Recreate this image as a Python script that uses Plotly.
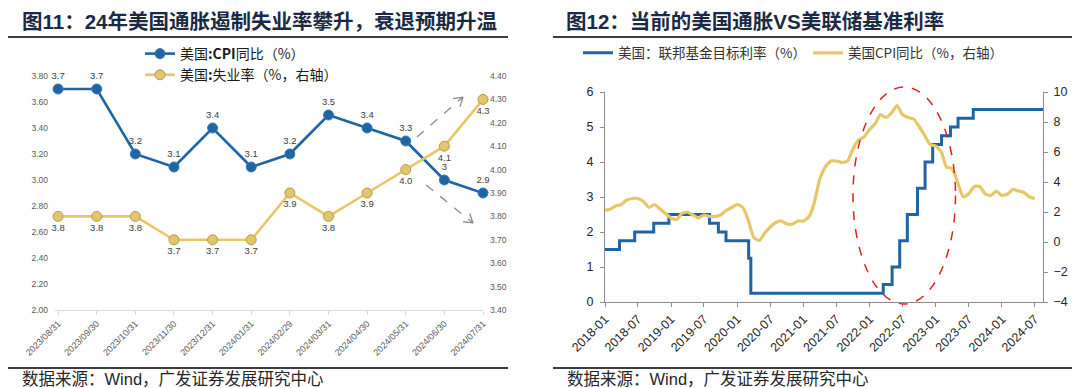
import math
import plotly.graph_objects as go
import pandas as pd

# ---------------- Left chart data (图11) ----------------
months_l = ["2023/08/31", "2023/09/30", "2023/10/31", "2023/11/30", "2023/12/31", "2024/01/31",
            "2024/02/29", "2024/03/31", "2024/04/30", "2024/05/31", "2024/06/30", "2024/07/31"]
cpi_l = [3.7, 3.7, 3.2, 3.1, 3.4, 3.1, 3.2, 3.5, 3.4, 3.3, 3.0, 2.9]
unemp_l = [3.8, 3.8, 3.8, 3.7, 3.7, 3.7, 3.9, 3.8, 3.9, 4.0, 4.1, 4.3]

# ---------------- Right chart data (图12) ----------------
cpi_start = "2018-01-01"
cpi_r = [2.1, 2.2, 2.4, 2.5, 2.8, 2.9, 2.9, 2.7, 2.3, 2.5, 2.2, 1.9,
         1.6, 1.5, 1.9, 2.0, 1.8, 1.6, 1.8, 1.7, 1.7, 1.8, 2.1, 2.3,
         2.5, 2.3, 1.5, 0.3, 0.1, 0.6, 1.0, 1.3, 1.4, 1.2, 1.2, 1.4,
         1.4, 1.7, 2.6, 4.2, 5.0, 5.4, 5.4, 5.3, 5.4, 6.2, 6.8, 7.0,
         7.5, 7.9, 8.5, 8.3, 8.6, 9.1, 8.5, 8.3, 8.2, 7.7, 7.1, 6.5,
         6.4, 6.0, 5.0, 4.9, 4.0, 3.0, 3.2, 3.7, 3.7, 3.2, 3.1, 3.4,
         3.1, 3.2, 3.5, 3.4, 3.3, 3.0, 2.9]
ff_dates = ["2018-01-01", "2018-03-22", "2018-06-14", "2018-09-27", "2018-12-20",
            "2019-08-01", "2019-09-19", "2019-10-31", "2020-03-04", "2020-03-16",
            "2022-03-17", "2022-05-05", "2022-06-16", "2022-07-28", "2022-09-22",
            "2022-11-03", "2022-12-15", "2023-02-02", "2023-03-23", "2023-05-04",
            "2023-07-27", "2024-08-15"]
ff_rates = [1.50, 1.75, 2.00, 2.25, 2.50,
            2.25, 2.00, 1.75, 1.25, 0.25,
            0.50, 1.00, 1.75, 2.50, 3.25,
            4.00, 4.50, 4.75, 5.00, 5.25,
            5.50, 5.50]

cpi_dates = pd.date_range(cpi_start, periods=len(cpi_r), freq="MS")

W, H = 1080, 388
def fx(p):
    return p / W
def fy(p):
    return 1 - p / H

BLUE = "#1f64a3"
GOLD = "#e6c768"
FONT = "Liberation Sans, Noto Sans CJK SC, sans-serif"
CJK = "Noto Sans CJK SC, Liberation Sans, sans-serif"

fig = go.Figure()

# Left chart traces
fig.add_trace(go.Scatter(
    x=months_l, y=cpi_l, name="美国<b>:CPI</b>同比（%）",
    mode="lines+markers+text", text=[f"{v:g}" for v in cpi_l], textposition="top center",
    textfont=dict(size=9.5, color="#404040", family=FONT),
    line=dict(color=BLUE, width=2.6), marker=dict(size=10, color=BLUE, line=dict(color="#3a7ab5", width=1)),
    cliponaxis=False, xaxis="x", yaxis="y", legend="legend"))
fig.add_trace(go.Scatter(
    x=months_l, y=unemp_l, name="美国<b>:</b>失业率（%，右轴）",
    mode="lines+markers+text", text=[f"{v:.1f}" for v in unemp_l], textposition="bottom center",
    textfont=dict(size=9.5, color="#404040", family=FONT),
    line=dict(color=GOLD, width=2.6), marker=dict(size=10, color="#e2c56c", line=dict(color="#b89a48", width=1)),
    cliponaxis=False, xaxis="x", yaxis="y2", legend="legend"))

# Right chart traces
fig.add_trace(go.Scatter(
    x=ff_dates, y=ff_rates, name="美国：联邦基金目标利率（%）", mode="lines",
    line=dict(color=BLUE, width=3, shape="hv"), xaxis="x2", yaxis="y3", legend="legend2"))
fig.add_trace(go.Scatter(
    x=cpi_dates, y=cpi_r, name="美国CPI同比（%，右轴）", mode="lines",
    line=dict(color=GOLD, width=3.2, shape="spline", smoothing=0.5), xaxis="x2", yaxis="y4", legend="legend3"))

ax_common = dict(showgrid=False, zeroline=False, automargin=False)

fig.update_layout(
    width=W, height=388, autosize=False,
    margin=dict(l=0, r=0, t=0, b=0),
    paper_bgcolor="white", plot_bgcolor="white",
    font=dict(family=FONT, color="#262626"),
    xaxis=dict(domain=[fx(47), fx(475)], anchor="y", type="category", range=[-0.08, 11],
               showline=True, linecolor="#d9d9d9", linewidth=1, ticks="outside", ticklen=4,
               tickcolor="#d9d9d9", tickangle=-45, tickfont=dict(size=9, color="#595959"), **ax_common),
    yaxis=dict(domain=[fy(302), fy(68)], anchor="x", range=[2.0, 3.8], dtick=0.2, tickformat=".2f",
               showline=False, ticks="", ticklabelstandoff=6, tickfont=dict(size=8.5, color="#595959"), **ax_common),
    yaxis2=dict(overlaying="y", side="right", anchor="x", range=[3.4, 4.4], dtick=0.1, tickformat=".2f",
                showline=False, ticks="", ticklabelstandoff=6, tickfont=dict(size=8.5, color="#595959"), **ax_common),
    xaxis2=dict(domain=[fx(597), fx(1035)], anchor="y3", type="date", range=["2018-01-01", "2024-08-15"],
                tickformat="%Y-%m", dtick="M6", tick0="2018-01-01", tickangle=-45,
                showline=True, linecolor="#8c8c8c", ticks="outside", ticklen=4, tickcolor="#8c8c8c",
                tickfont=dict(size=12.5, color="#262626"), **ax_common),
    yaxis3=dict(domain=[fy(294), fy(84)], anchor="x2", range=[0, 6], dtick=1,
                showline=True, linecolor="#8c8c8c", ticks="outside", ticklen=4, tickcolor="#8c8c8c",
                ticklabelstandoff=4, tickfont=dict(size=12.5, color="#262626"), **ax_common),
    yaxis4=dict(overlaying="y3", side="right", anchor="x2", range=[-4, 10], dtick=2,
                showline=True, linecolor="#8c8c8c", ticks="outside", ticklen=4, tickcolor="#8c8c8c",
                ticklabelstandoff=3, tickfont=dict(size=12.5, color="#262626"), **ax_common),
    legend=dict(x=fx(132), y=fy(30), xanchor="left", yanchor="top", bgcolor="rgba(0,0,0,0)",
                font=dict(size=14, color="#1a1a1a", family=CJK), itemwidth=30, tracegroupgap=0),
    legend2=dict(x=fx(570), y=fy(45), xanchor="left", yanchor="middle", orientation="h",
                 bgcolor="rgba(0,0,0,0)", font=dict(size=13.5, color="#333333", family=CJK), itemwidth=30),
    legend3=dict(x=fx(800), y=fy(45), xanchor="left", yanchor="middle", orientation="h",
                 bgcolor="rgba(0,0,0,0)", font=dict(size=13.5, color="#333333", family=CJK), itemwidth=30),
    showlegend=True,
)

# Titles, source notes
TITLE_C = "#1b2a44"
TFONT = dict(size=20.5, color=TITLE_C, family="Liberation Sans, Noto Sans CJK SC")
fig.add_annotation(text="<b>图11：24年美国通胀遏制失业率攀升，衰退预期升温</b>", x=fx(12), y=1,
                   xref="paper", yref="paper", xanchor="left", yanchor="top", showarrow=False, font=TFONT)
fig.add_annotation(text="<b>图12：当前的美国通胀VS美联储基准利率</b>", x=fx(556), y=1,
                   xref="paper", yref="paper", xanchor="left", yanchor="top", showarrow=False, font=TFONT)
for xs in (12, 557):
    fig.add_annotation(text="数据来源：Wind，广发证券发展研究中心", x=fx(xs), y=fy(371),
                       xref="paper", yref="paper", xanchor="left", yanchor="middle", showarrow=False,
                       font=dict(size=16.5, color="#262626", family="Liberation Sans, Noto Sans CJK SC"))

# Horizontal rules
for (a, b) in ((0, 500), (545, 1080)):
    for yy in (29, 360):
        fig.add_shape(type="line", xref="paper", yref="paper", x0=fx(a), x1=fx(b), y0=fy(yy), y1=fy(yy),
                      line=dict(color="#3c3c3c", width=2))

# Dashed trend arrows on left chart (category index, right-axis units)
SX = 428 / 11.08      # px per category step
SY = 234 / 1.0        # px per right-axis unit
arrows = [((9.29, 4.139), (10.48, 4.310)),
          ((9.53, 3.934), (10.74, 3.772))]
ARC = "#8a8a8a"
for (t0, t1) in arrows:
    fig.add_shape(type="line", xref="x", yref="y2", x0=t0[0], y0=t0[1], x1=t1[0], y1=t1[1],
                  line=dict(color=ARC, width=1.3, dash="dash"))
    dxp = (t1[0] - t0[0]) * SX
    dyp = (t1[1] - t0[1]) * SY
    ang = math.atan2(dyp, dxp)
    for s in (1, -1):
        a = ang + math.pi + s * math.radians(32)
        wx = t1[0] + 10 * math.cos(a) / SX
        wy = t1[1] + 10 * math.sin(a) / SY
        fig.add_shape(type="line", xref="x", yref="y2", x0=t1[0], y0=t1[1], x1=wx, y1=wy,
                      line=dict(color=ARC, width=1.3))

# Red dashed ellipse highlighting 2022 tightening
fig.add_shape(type="circle", xref="x2", yref="paper", x0="2021-10-01", x1="2023-04-20",
              y0=fy(296), y1=fy(79), line=dict(color="#e02020", width=1.5, dash="dash"))

fig.write_html("out.html")
